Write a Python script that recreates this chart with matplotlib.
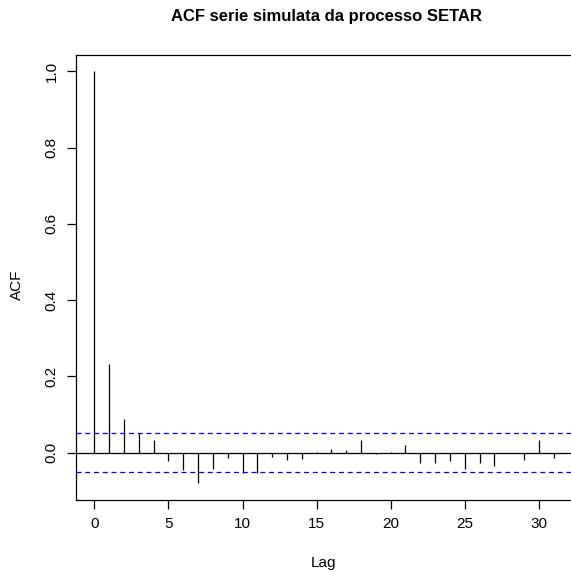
import matplotlib
matplotlib.use("Agg")
import matplotlib.pyplot as plt

# ACF values, lag 0..31
lags = list(range(32))
acf_vals = [1.0, 0.232, 0.0875, 0.0526, 0.032, -0.022, -0.046, -0.081,
            -0.044, -0.013, -0.054, -0.053, -0.0105, -0.019, -0.0175, 0.001,
            0.0087, 0.006, 0.032, -0.004, 0.001, 0.019, -0.026, -0.026,
            -0.023, -0.042, -0.027, -0.036, -0.002, -0.019, 0.032, -0.014]
conf = 0.0516  # approx 2/sqrt(n)

plt.rcParams["font.family"] = ["Liberation Sans", "DejaVu Sans"]

W, H = 571, 572
fig = plt.figure(figsize=(W / 100, H / 100), dpi=100)
ax = fig.add_axes([76 / W, 72 / H, 496 / W, 445 / H])

ax.vlines(lags, 0, acf_vals, color="black", linewidth=0.9)
ax.axhline(0, color="black", linewidth=0.9)
ax.axhline(conf, color="blue", linestyle=(0, (4, 3)), linewidth=0.9)
ax.axhline(-conf, color="blue", linestyle=(0, (4, 3)), linewidth=0.9)

ax.set_xlim(-1.24, 32.24)
ax.set_ylim(-0.1243, 1.0432)
ax.set_xticks([0, 5, 10, 15, 20, 25, 30])
ax.set_yticks([0.0, 0.2, 0.4, 0.6, 0.8, 1.0])
ax.set_yticklabels(["0.0", "0.2", "0.4", "0.6", "0.8", "1.0"], rotation=90, va="center")
ax.tick_params(direction="out", length=6.5, width=0.9, labelsize=11, pad=6)
for s in ax.spines.values():
    s.set_linewidth(0.9)

fig.text(324 / W, 1 - 563 / H, "Lag", ha="center", va="center", fontsize=11)
fig.text(17 / W, 1 - 285 / H, "ACF", ha="center", va="center", fontsize=11, rotation=90)
fig.text(326 / W, 1 - 17 / H, "ACF serie simulata da processo SETAR",
         ha="center", va="center", fontsize=12, fontweight="bold")

fig.savefig("out.png", dpi=100)
